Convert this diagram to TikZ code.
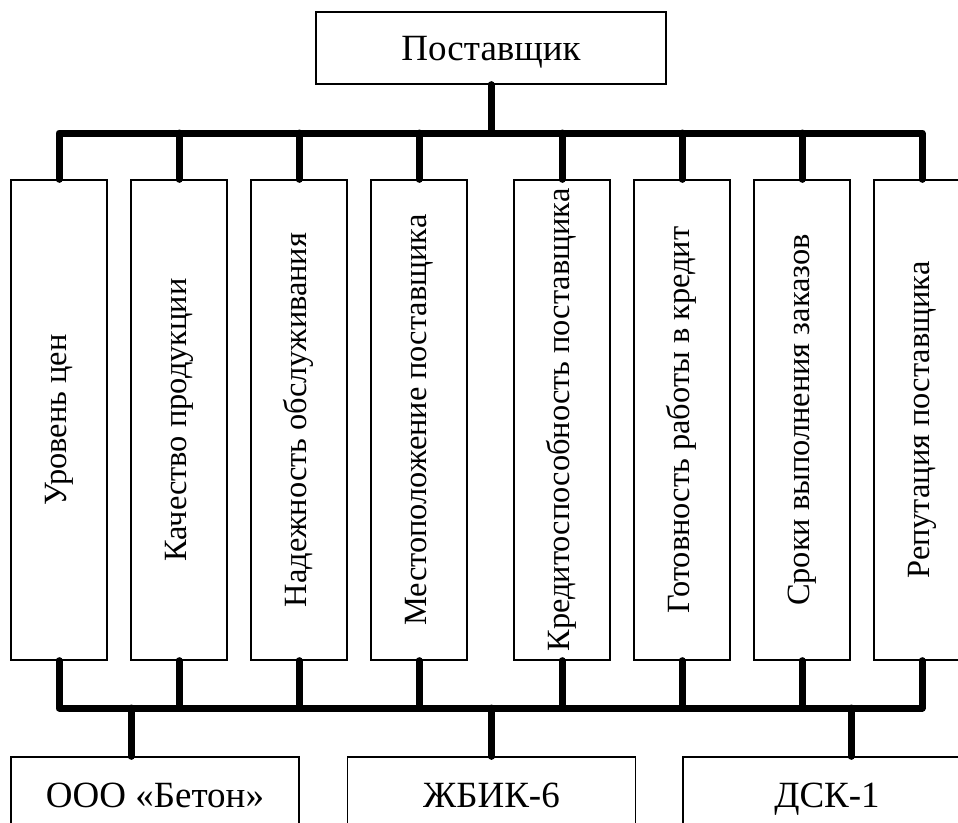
\documentclass[tikz,border=0pt]{standalone}
\usepackage{fontspec}
\setmainfont{Liberation Serif}
\usetikzlibrary{positioning}

\begin{document}
\begin{tikzpicture}[x=1pt,y=-1pt,font=\fontsize{37}{40}\selectfont,
  box/.style={draw,line width=1.3pt,inner sep=0pt},
  crit/.style={box,minimum width=96pt,minimum height=480pt},
  firm/.style={box,minimum width=288pt,minimum height=76pt,text height=25pt,text depth=0pt},
  lbl/.style={rotate=90,inner sep=0pt,font=\fontsize{32.4}{36}\selectfont,text height=20pt,text depth=6pt},
  link/.style={line width=7pt,line cap=round,line join=round}]
\clip (0,0) rectangle (958,822);
\node[box,minimum width=350pt,minimum height=72pt,text height=25pt,text depth=0pt] (sup) at (491,48) {Поставщик};
\foreach \n/\x/\t in {1/59/Уровень цен,2/179/Качество продукции,3/299/Надежность обслуживания,4/419/Местоположение поставщика,5/562/Кредитоспособность поставщика,6/682/Готовность работы в кредит,7/802/Сроки выполнения заказов,8/922/Репутация поставщика}{
  \node[crit] (k\n) at (\x,420) {};
  \node[lbl] (t\n) at (k\n) {\t};
}
\node[firm] (f1) at (155,795) {ООО «Бетон»};
\node[firm] (f2) at (491.5,795) {ЖБИК-6};
\node[firm] (f3) at (827,795) {ДСК-1};
\coordinate (tb) at (0,133);
\coordinate (bb) at (0,708);
\coordinate (c1) at ([xshift=-24pt]f1.north);
\coordinate (c3) at ([xshift=24pt]f3.north);
\draw[link] (sup.south) -- (sup.south |- tb);
\draw[link] (k1.north) -- (k1.north |- tb) -- (k8.north |- tb) -- (k8.north);
\foreach \n in {2,...,7} \draw[link] (k\n.north) -- (k\n.north |- tb);
\draw[link] (k1.south) -- (k1.south |- bb) -- (k8.south |- bb) -- (k8.south);
\foreach \n in {2,...,7} \draw[link] (k\n.south) -- (k\n.south |- bb);
\draw[link] (c1) -- (c1 |- bb);
\draw[link] (f2.north) -- (f2.north |- bb);
\draw[link] (c3) -- (c3 |- bb);
\end{tikzpicture}
\end{document}
